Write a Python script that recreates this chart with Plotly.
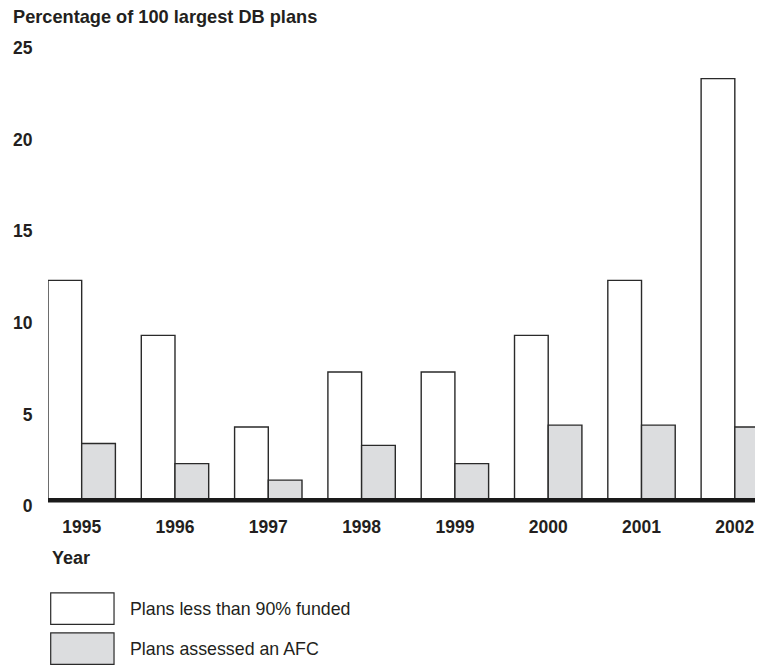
import plotly.graph_objects as go

years = ["1995", "1996", "1997", "1998", "1999", "2000", "2001", "2002"]
under_90_funded = [12, 9, 4, 7, 7, 9, 12, 23]
assessed_afc = [3.1, 2.0, 1.1, 3.0, 2.0, 4.1, 4.1, 4.0]
series_names = ["Plans less than 90% funded", "Plans assessed an AFC"]
y_ticks = [0, 5, 10, 15, 20, 25]

# the page body has an 8px default margin, so the figure is drawn 8px in from the corner
OFF = 8
W, H = 763 - OFF, 665 - OFF
PLOT_L, PLOT_R, PLOT_T, PLOT_B = 48.3, 763, 41.5, 503.7   # in window pixels
ML = PLOT_L - OFF
MR = (W + OFF) - PLOT_R
MT = PLOT_T - OFF
MB = (H + OFF) - PLOT_B
PW = PLOT_R - PLOT_L
PH = PLOT_B - PLOT_T

FONT = "Liberation Sans, Arial, Helvetica, sans-serif"
TXT = "#231f20"
EDGE = "#2a2a2a"
GRAY = "#dcdddf"

def px_x(p):
    return (p - PLOT_L) / PW

def px_y(p):
    return (PLOT_B - p) / PH

fig = go.Figure()
fig.add_trace(go.Bar(x=years, y=under_90_funded, name=series_names[0],
                     marker=dict(color="white", line=dict(color=EDGE, width=1.4))))
fig.add_trace(go.Bar(x=years, y=assessed_afc, name=series_names[1],
                     marker=dict(color=GRAY, line=dict(color=EDGE, width=1.4))))

fig.update_layout(
    width=W, height=H,
    margin=dict(l=ML, r=MR, t=MT, b=MB, pad=0),
    paper_bgcolor="white", plot_bgcolor="white",
    barmode="group", bargap=0.2776, bargroupgap=0,
    showlegend=False,
    font=dict(family=FONT, color=TXT, size=17),
)
fig.update_xaxes(
    type="category", range=[-0.361, 7.302],
    showgrid=False, showline=False, zeroline=False,
    ticks="outside", ticklen=7, tickcolor="rgba(0,0,0,0)",
    tickfont=dict(family=FONT, size=17.5, color=TXT, weight="bold"),
)
fig.update_yaxes(
    range=[-0.2, 25], tickvals=y_ticks, ticktext=[str(v) for v in y_ticks],
    showgrid=False, showline=False, zeroline=False,
    ticks="outside", ticklen=11, tickcolor="rgba(0,0,0,0)",
    ticklabelshift=6,
    tickfont=dict(family=FONT, size=17.5, color=TXT, weight="bold"),
)

# thick baseline at zero
fig.add_shape(type="line", xref="paper", yref="y", x0=0, x1=1, y0=0, y1=0,
              line=dict(color="#1a1a1a", width=4.5), layer="above")

# axis titles
fig.add_annotation(text="<b>Percentage of 100 largest DB plans</b>", xref="paper", yref="paper",
                   x=px_x(11), y=px_y(16.5), xanchor="left", yanchor="middle", showarrow=False,
                   font=dict(family=FONT, size=18.2, color=TXT))
fig.add_annotation(text="<b>Year</b>", xref="paper", yref="paper",
                   x=px_x(50), y=px_y(558), xanchor="left", yanchor="middle", showarrow=False,
                   font=dict(family=FONT, size=18, color=TXT))

# legend (drawn manually with large swatches)
fills = ["white", GRAY]
box_tops = [592.7, 632.7]
for name, fill, top in zip(series_names, fills, box_tops):
    fig.add_shape(type="rect", xref="paper", yref="paper",
                  x0=px_x(51), x1=px_x(114.3), y0=px_y(top), y1=px_y(top + 31.5),
                  line=dict(color=EDGE, width=1.2), fillcolor=fill)
    fig.add_annotation(text=name, xref="paper", yref="paper",
                       x=px_x(128), y=px_y(top + 16), xanchor="left", yanchor="middle",
                       showarrow=False, font=dict(family=FONT, size=17.8, color=TXT))

fig.write_html("out.html")
